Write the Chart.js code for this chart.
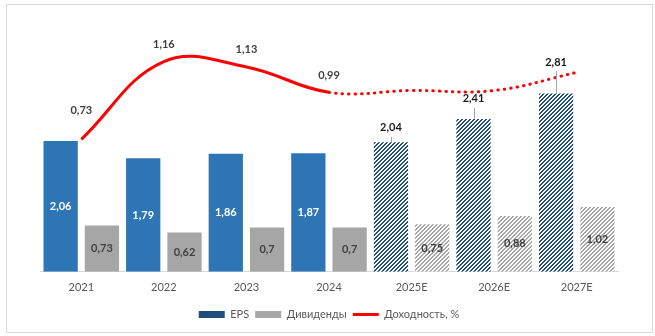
<!DOCTYPE html>
<html>
<head>
<meta charset="utf-8">
<script src="https://cdn.jsdelivr.net/npm/chart.js@4"></script>
<style>
  html, body { margin: 0; padding: 0; background: #fff; }
  #marco { position: absolute; left: 6px; top: 4px; width: 645px; height: 327px; border: 1px solid #d9d9d9; }
  #grafico { position: absolute; left: 0; top: 0; }
</style>
</head>
<body>
<div id="marco"></div>
<canvas id="grafico" width="655" height="336"></canvas>
<script>
// Datos del gráfico
const anios = ["2021", "2022", "2023", "2024", "2025E", "2026E", "2027E"];
const eps = [2.06, 1.79, 1.86, 1.87, 2.04, 2.41, 2.81];
const dividendos = [0.73, 0.62, 0.7, 0.7, 0.75, 0.88, 1.02];
const rentabilidad = [0.73, 1.16, 1.13, 0.99, 1.0, 1.0, 1.1];
const primerPronostico = 4; // desde 2025E los valores son estimaciones

const AZUL = "#2e75b6";
const AZUL_OSCURO = "#1f4e79";
const GRIS = "#a6a6a6";
const ROJO = "#ff0000";

// Patrón rayado para las estimaciones
function crearRayado(color) {
    const c = document.createElement("canvas");
    c.width = 4;
    c.height = 4;
    const g = c.getContext("2d");
    g.fillStyle = "#ffffff";
    g.fillRect(0, 0, 4, 4);
    g.fillStyle = color;
    for (let x = 0; x < 4; x++) {
        for (let y = 0; y < 4; y++) {
            if ((x + y) % 4 < 2) g.fillRect(x, y, 1, 1);
        }
    }
    return g.createPattern(c, "repeat");
}

const rayadoAzul = crearRayado(AZUL_OSCURO);
const rayadoGris = crearRayado(GRIS);

const coloresEps = anios.map((_, i) => (i < primerPronostico ? AZUL : rayadoAzul));
const coloresDiv = anios.map((_, i) => (i < primerPronostico ? GRIS : rayadoGris));

const formato = (v) => String(v).replace(".", ",");

// Etiquetas de valores sobre las barras y la línea
const etiquetas = {
    id: "etiquetas",
    afterDatasetsDraw(chart) {
        const ctx = chart.ctx;
        ctx.save();
        ctx.font = "bold 11px Lato";
        ctx.textAlign = "center";
        ctx.textBaseline = "middle";

        // EPS
        const subidas = [14.5, 20, 31.5];
        chart.getDatasetMeta(0).data.forEach((barra, i) => {
            if (i < primerPronostico) {
                ctx.fillStyle = "#ffffff";
                ctx.fillText(formato(eps[i]), barra.x, (barra.y + barra.base) / 2);
            } else {
                const yTexto = barra.y - subidas[i - primerPronostico];
                ctx.fillStyle = "#1a1a1a";
                ctx.fillText(formato(eps[i]), barra.x, yTexto);
                ctx.strokeStyle = GRIS;
                ctx.lineWidth = 1;
                ctx.beginPath();
                ctx.moveTo(Math.round(barra.x) + 0.5, yTexto + 9);
                ctx.lineTo(Math.round(barra.x) + 0.5, barra.y);
                ctx.stroke();
            }
        });

        // Dividendos
        ctx.fillStyle = "#404040";
        chart.getDatasetMeta(1).data.forEach((barra, i) => {
            ctx.fillText(formato(dividendos[i]), barra.x, (barra.y + barra.base) / 2);
        });

        // Rentabilidad (solo años reales)
        const desplaz = [29, 17, 17, 17];
        chart.getDatasetMeta(2).data.forEach((p, i) => {
            if (i < primerPronostico) {
                ctx.fillText(formato(rentabilidad[i]), p.x, p.y - desplaz[i]);
            }
        });
        ctx.restore();
    },
};

const ctx = document.getElementById("grafico").getContext("2d");

new Chart(ctx, {
    type: "bar",
    data: {
        labels: anios,
        datasets: [
            {
                label: "EPS",
                data: eps,
                backgroundColor: coloresEps,
                borderWidth: 0,
                yAxisID: "y",
            },
            {
                label: "Дивиденды",
                data: dividendos,
                backgroundColor: coloresDiv,
                borderWidth: 0,
                yAxisID: "y",
            },
            {
                type: "line",
                label: "Доходность, %",
                data: rentabilidad,
                borderColor: ROJO,
                backgroundColor: ROJO,
                borderWidth: 3,
                pointRadius: 0,
                tension: 0.4,
                yAxisID: "y1",
                segment: {
                    borderDash: (c) => (c.p0DataIndex >= primerPronostico - 1 ? [0.5, 6] : undefined),
                    borderCapStyle: (c) => (c.p0DataIndex >= primerPronostico - 1 ? "round" : "butt"),
                },
            },
        ],
    },
    options: {
        responsive: false,
        animation: false,
        devicePixelRatio: 1,
        layout: {
            padding: { left: 40, right: 37, top: 18, bottom: 6 },
        },
        datasets: {
            bar: {
                categoryPercentage: 1,
                barPercentage: 0.83,
            },
        },
        scales: {
            x: {
                grid: { display: false, drawTicks: false },
                border: { color: "#d9d9d9", width: 1 },
                ticks: {
                    color: "#595959",
                    font: { family: "Lato", size: 11 },
                    padding: 9,
                },
            },
            y: { display: false, min: 0, max: 4 },
            y1: { display: false, min: 0, max: 1.4, position: "right" },
        },
        plugins: {
            tooltip: { enabled: false },
            legend: {
                position: "bottom",
                labels: {
                    color: "#595959",
                    font: { family: "Lato", size: 11 },
                    usePointStyle: true,
                    pointStyleWidth: 26,
                    boxWidth: 26,
                    boxHeight: 7,
                    padding: 6,
                    generateLabels(chart) {
                        const items = Chart.defaults.plugins.legend.labels.generateLabels(chart);
                        items[0].fillStyle = AZUL_OSCURO;
                        items[0].pointStyle = "rect";
                        items[0].lineWidth = 0;
                        items[1].fillStyle = GRIS;
                        items[1].pointStyle = "rect";
                        items[1].lineWidth = 0;
                        items[2].pointStyle = "line";
                        items[2].strokeStyle = ROJO;
                        items[2].lineWidth = 3;
                        items[2].lineDash = [];
                        return items;
                    },
                },
            },
        },
    },
    plugins: [etiquetas],
});
</script>
</body>
</html>
